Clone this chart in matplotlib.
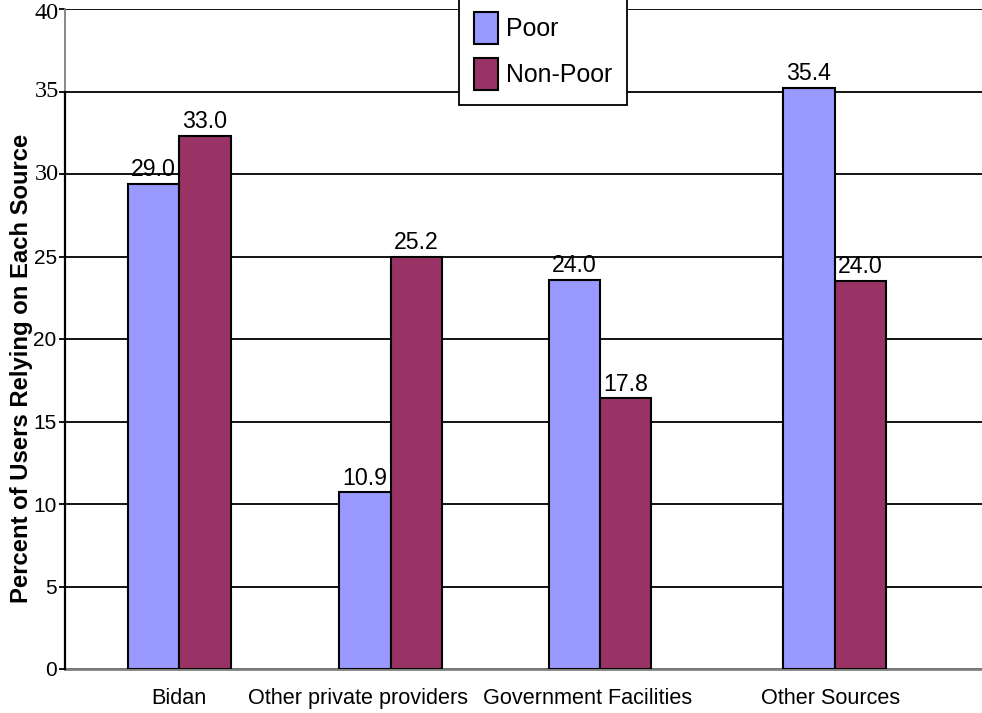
import numpy as np
import matplotlib.pyplot as plt
from matplotlib.ticker import FuncFormatter

# data
categories = ['Bidan', 'Other private providers', 'Government Facilities', 'Other Sources']
poor = [29.4, 10.7, 23.6, 35.2]
non_poor = [32.3, 25.0, 16.4, 23.5]
poor_labels = ['29.0', '10.9', '24.0', '35.4']
non_poor_labels = ['33.0', '25.2', '17.8', '24.0']
yticks = [0, 5, 10, 15, 20, 25, 30, 35, 40]
serif_ticks = [30, 35, 40]   # these tick labels are drawn in a serif face in the original

# layout: group centres and tick label centres (category units)
group_x = np.array([0.0, 0.968, 1.927, 3.0])
label_x = np.array([0.0, 0.82, 1.87, 2.98])

poor_color = '#9999FF'
nonpoor_color = '#993366'

fig = plt.figure(figsize=(9.82, 7.13), dpi=100)
ax_w = 1 - 65/982 + 0.01
ax = fig.add_axes([65/982, 1 - 669/713, ax_w, (669 - 9)/713])

w = 0.235
b1 = ax.bar(group_x - w/2, poor, w, color=poor_color, edgecolor='black', linewidth=1.5,
            label='Poor', zorder=3)
b2 = ax.bar(group_x + w/2, non_poor, w, color=nonpoor_color, edgecolor='black', linewidth=1.5,
            label='Non-Poor', zorder=3)

ax.bar_label(b1, labels=poor_labels, padding=2, fontsize=16.7, family='Liberation Sans')
ax.bar_label(b2, labels=non_poor_labels, padding=2, fontsize=16.7, family='Liberation Sans')

ax.set_ylim(0, 40)
ax.set_xlim(-0.523, 3.72)
ax.set_yticks(yticks)
ax.yaxis.set_major_formatter(FuncFormatter(lambda v, p: '' if v in serif_ticks else '%d' % v))
ax.yaxis.grid(True, color='black', linewidth=1.3, zorder=0)
ax.set_axisbelow(True)
for v in serif_ticks:
    ax.annotate(str(v), xy=(0, v), xycoords=ax.get_yaxis_transform(),
                xytext=(-4.5, -3 if v == 40 else 0), textcoords='offset points',
                ha='right', va='center', fontsize=17.5,
                family=['Liberation Serif', 'DejaVu Serif'], annotation_clip=False)

ax.set_xticks(label_x)
ax.set_xticklabels(categories, fontsize=15.6, family='Liberation Sans')
ax.tick_params(axis='x', length=0, pad=14)
ax.tick_params(axis='y', length=4, width=1.3, pad=2, labelsize=15)
for lab in ax.get_yticklabels():
    lab.set_fontfamily('Liberation Sans')

for s in ['top', 'right']:
    ax.spines[s].set_visible(False)
ax.spines['bottom'].set_color('#808080')
ax.spines['bottom'].set_linewidth(2)
ax.spines['left'].set_color('#808080')
ax.spines['left'].set_linewidth(1.3)
ax.plot([0, 0], [0, 35], color='black', linewidth=1.6, transform=ax.get_yaxis_transform(),
        clip_on=False, zorder=4)

ax.set_ylabel('Percent of Users Relying on Each Source', fontsize=17.2, fontweight='bold',
              family='Liberation Sans')
ax.yaxis.set_label_coords((33 - 65) / (ax_w * 982), 0.455)

leg = fig.legend(handles=[b1, b2], loc='lower left',
                 bbox_to_anchor=(459/982, 1 - 105/713),
                 prop={'family': 'Liberation Sans', 'size': 17.9},
                 frameon=True, fancybox=False, edgecolor='black', framealpha=1,
                 handlelength=0.96, handleheight=1.55, labelspacing=0.6,
                 borderpad=0.62, handletextpad=0.3, borderaxespad=0)
leg.get_frame().set_linewidth(1.3)

fig.savefig('out.png', dpi=100)
